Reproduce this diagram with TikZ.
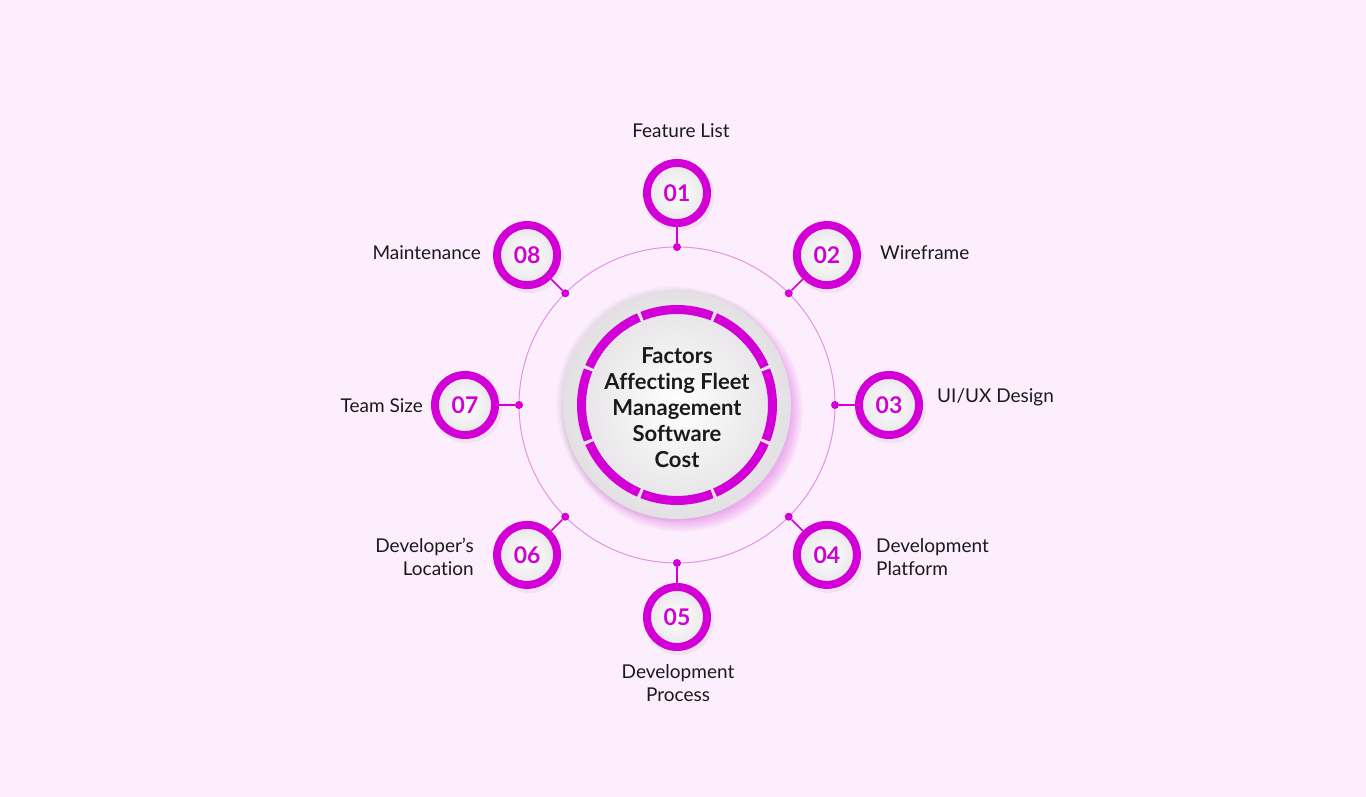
\documentclass[tikz,border=0pt]{standalone}
\usepackage{fontspec}
\setmainfont[Ligatures=NoCommon]{Lato}
\definecolor{bg}{HTML}{FDEEFD}
\definecolor{mag}{HTML}{D200D6}
\definecolor{thinc}{HTML}{E096E2}
\definecolor{disc}{HTML}{F4F1F4}
\definecolor{txt}{HTML}{1A1A1A}
\begin{document}
\begin{tikzpicture}[x=1pt,y=1pt,
  numc/.style={circle, draw=mag, line width=8pt, shading=radial, inner color=white, outer color=disc!90!gray, minimum size=60pt, inner sep=0pt, font=\fontsize{23}{23}\selectfont\bfseries, text=mag},
  dotn/.style={circle, fill=mag, minimum size=8pt, inner sep=0pt},
  conn/.style={draw=mag, line width=1.5pt},
  lbl/.style={font=\fontsize{19}{23.5}\selectfont, text=txt, inner sep=0pt},
  seg/.style={draw=mag, line width=9pt},
]
\useasboundingbox[fill=bg] (0,0) rectangle (1366,797);
\coordinate (c) at (677,392);
% big thin circle
\draw[thinc, line width=1pt] (c) circle[radius=158pt];
% glow and shadow of centre disc
\foreach \i in {1,...,8}{
  \fill[mag, opacity=0.035] ([shift={(5pt,-6pt)}]c) circle[radius=108pt+\i*1.6pt];
}
\foreach \i in {1,...,5}{
  \fill[gray, opacity=0.03] ([shift={(-3pt,1pt)}]c) circle[radius=112pt+\i*1.2pt];
}
\node[circle, minimum size=228pt, inner sep=0pt, shading=radial, inner color=white, outer color=disc!85!gray] (disc) at (c) {};
% segmented ring
\foreach \a in {0,45,...,315}{
  \draw[seg] ([shift={(\a-21.5:95.5pt)}]c) arc[start angle=\a-21.5, end angle=\a+21.5, radius=95.5pt];
}
\node[font=\fontsize{22}{26}\selectfont\bfseries, text=txt, align=center, inner sep=0pt] (title) at (677,389) {Factors\\Affecting Fleet\\Management\\Software\\Cost};
% numbered items
\foreach \n/\a in {1/90,2/45,3/0,4/-45,5/-90,6/-135,7/180,8/135}{
  \node[dotn] (d\n) at ([shift={(\a:158pt)}]c) {};
  \fill[gray, opacity=0.10] ([shift={(\a:212pt)}]c) ++(2pt,-3pt) circle[radius=35pt];
  \node[numc] (n\n) at ([shift={(\a:212pt)}]c) {0\n};
  \draw[conn] (n\n) -- (d\n);
}
% labels
\node[lbl, anchor=center] (l1) at (681,666) {Feature List};
\node[lbl, anchor=west] (l2) at (880,544) {Wireframe};
\node[lbl, anchor=west] (l3) at (937,400) {UI/UX Design};
\node[lbl, anchor=west, align=left] (l4) at (876,240) {Development\\Platform};
\node[lbl, anchor=center, align=center] (l5) at (678,114) {Development\\Process};
\node[lbl, anchor=east, align=right] (l6) at (474,240) {Developer's\\Location};
\node[lbl, anchor=east] (l7) at (423,391) {Team Size};
\node[lbl, anchor=east] (l8) at (481,544) {Maintenance};
\end{tikzpicture}
\end{document}
